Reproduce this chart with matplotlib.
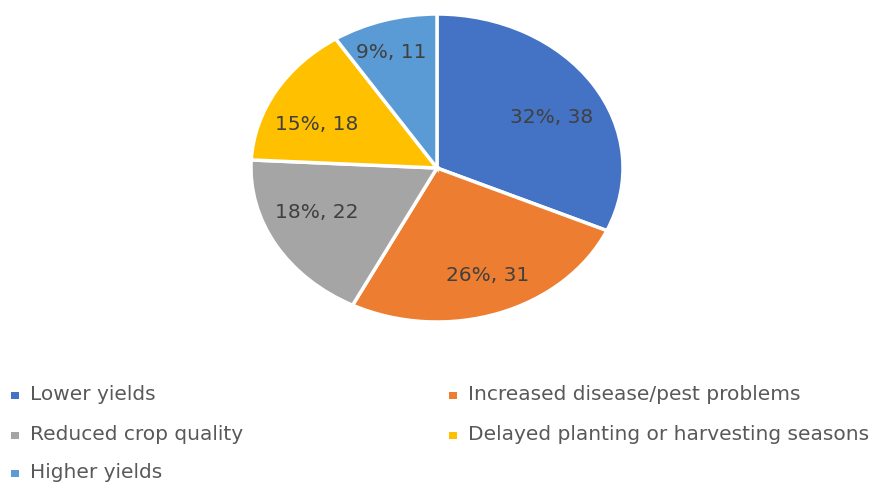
import matplotlib
matplotlib.use("Agg")
import matplotlib.pyplot as plt
from matplotlib.patches import Rectangle

categories = ["Lower yields", "Increased disease/pest problems", "Reduced crop quality",
              "Delayed planting or harvesting seasons", "Higher yields"]
values = [38, 31, 22, 18, 11]
colors = ["#4472C4", "#ED7D31", "#A5A5A5", "#FFC000", "#5B9BD5"]

plt.rcParams['font.family'] = ['DejaVu Sans']

W, H = 879, 483
fig = plt.figure(figsize=(W / 100, H / 100), dpi=100)
fig.patch.set_facecolor("white")

# pie axes (elliptical, as in the reference)
px0, px1, py0, py1 = 251, 623, 14, 322
ax = fig.add_axes([px0 / W, 1 - py1 / H, (px1 - px0) / W, (py1 - py0) / H])
total = sum(values)

def fmt(p):
    n = int(round(p * total / 100.0))
    return f"{p:.0f}%, {n}"

wedges, texts, autotexts = ax.pie(
    values, colors=colors, startangle=90, counterclock=False,
    autopct=fmt, pctdistance=0.73,
    wedgeprops=dict(edgecolor="white", linewidth=2.5),
    textprops=dict(color="#404040", fontsize=14.5))
ax.set_aspect('auto')
ax.set_xlim(-1.0, 1.0)
ax.set_ylim(-1.0, 1.0)
ax.axis('off')

# label placement (axes data units), matching the reference layout
label_xy = [(0.618, 0.325), (0.274, -0.695), (-0.645, -0.292), (-0.645, 0.28), (-0.245, 0.747)]
for t, (x, y) in zip(autotexts, label_xy):
    t.set_position((x, y))

# legend (manual layout in figure pixel coordinates)
lax = fig.add_axes([0, 0, 1, 1])
lax.set_xlim(0, W)
lax.set_ylim(H, 0)
lax.axis('off')
legend_pos = [(11, 395), (449, 395), (11, 435), (449, 435), (11, 473)]
for (x, y), lab, c in zip(legend_pos, categories, colors):
    lax.add_patch(Rectangle((x, y - 3.5), 8, 7, facecolor=c, edgecolor="none"))
    lax.text(x + 19, y, lab, fontsize=14.5, color="#595959", va="center", ha="left")

fig.savefig("out.png", dpi=100, facecolor="white")
